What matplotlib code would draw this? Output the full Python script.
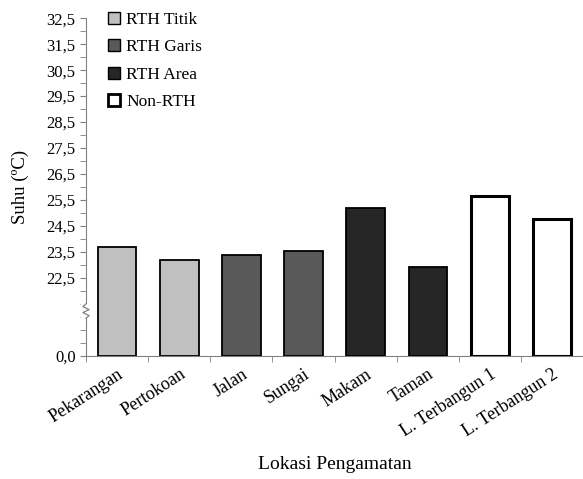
import matplotlib.pyplot as plt
import matplotlib.patches as mpatches
import numpy as np

plt.rcParams['font.family'] = ['Liberation Serif', 'DejaVu Serif']

# data
lokasi = ['Pekarangan', 'Pertokoan', 'Jalan', 'Sungai', 'Makam', 'Taman',
          'L. Terbangun 1', 'L. Terbangun 2']
suhu = [23.71, 23.19, 23.40, 23.52, 25.21, 22.94, 25.66, 24.77]
kelompok = ['RTH Titik', 'RTH Titik', 'RTH Garis', 'RTH Garis',
            'RTH Area', 'RTH Area', 'Non-RTH', 'Non-RTH']
kelompok_names = ['RTH Titik', 'RTH Garis', 'RTH Area', 'Non-RTH']
warna = {'RTH Titik': '#c0c0c0', 'RTH Garis': '#595959',
         'RTH Area': '#262626', 'Non-RTH': '#ffffff'}
ytick_vals = [19.5] + list(np.arange(22.5, 32.6, 1.0))
ytick_labels = ['0,0'] + [f'{v:.1f}'.replace('.', ',') for v in np.arange(22.5, 32.6, 1.0)]

fig = plt.figure(figsize=(5.83, 4.79), dpi=100)
ax = fig.add_axes([0.1475, 0.257, 0.853, 0.705])

x = np.arange(len(lokasi))
for i, (v, k) in enumerate(zip(suhu, kelompok)):
    lw = 2.2 if k == 'Non-RTH' else 1.3
    ax.bar(x[i], v - 19.5, bottom=19.5, width=0.62, color=warna[k],
           edgecolor='black', linewidth=lw, zorder=3)

ax.set_xlim(-0.5, len(lokasi) - 0.5)
ax.set_ylim(19.5, 32.5)

ax.set_yticks(ytick_vals)
ax.set_yticklabels(ytick_labels, fontsize=12)
ax.set_yticks(np.arange(20.0, 32.5, 0.5), minor=True)
ax.tick_params(axis='y', which='both', direction='out', length=4, color='#808080')

ax.set_xticks(x)
ax.set_xticklabels(lokasi, rotation=33, ha='right', va='top',
                   rotation_mode='anchor', fontsize=13)
ax.tick_params(axis='x', which='major', length=0, pad=7)
ax.set_xticks(np.arange(-0.5, len(lokasi), 1.0), minor=True)
ax.tick_params(axis='x', which='minor', direction='out', length=4, color='#808080')

for s in ['top', 'right']:
    ax.spines[s].set_visible(False)
ax.spines['left'].set_color('#808080')
ax.spines['bottom'].set_color('#808080')

# axis break mark
ax.add_patch(mpatches.Rectangle((-0.58, 20.95), 0.16, 0.55, transform=ax.transData,
                                facecolor='white', edgecolor='none', clip_on=False, zorder=5))
zx = np.array([0, 0.05, -0.05, 0.05, -0.05, 0]) - 0.5
zy = np.array([20.95, 21.05, 21.17, 21.28, 21.40, 21.5])
ax.plot(zx, zy, color='#808080', lw=0.9, clip_on=False, zorder=6)

ax.set_ylabel('Suhu (ºC)', fontsize=13.5)
ax.yaxis.set_label_coords(-0.115, 0.5)
ax.set_xlabel('Lokasi Pengamatan', fontsize=14, labelpad=12)

handles = [mpatches.Patch(facecolor=warna[k], edgecolor='black',
                          linewidth=2.0 if k == 'Non-RTH' else 1.0, label=k)
           for k in kelompok_names]
ax.legend(handles=handles, loc='upper left', bbox_to_anchor=(0.03, 1.04),
          frameon=False, fontsize=12.5, handlelength=0.7, handleheight=0.7,
          handletextpad=0.35, labelspacing=0.65, borderaxespad=0)

fig.savefig('out.png', dpi=100)
